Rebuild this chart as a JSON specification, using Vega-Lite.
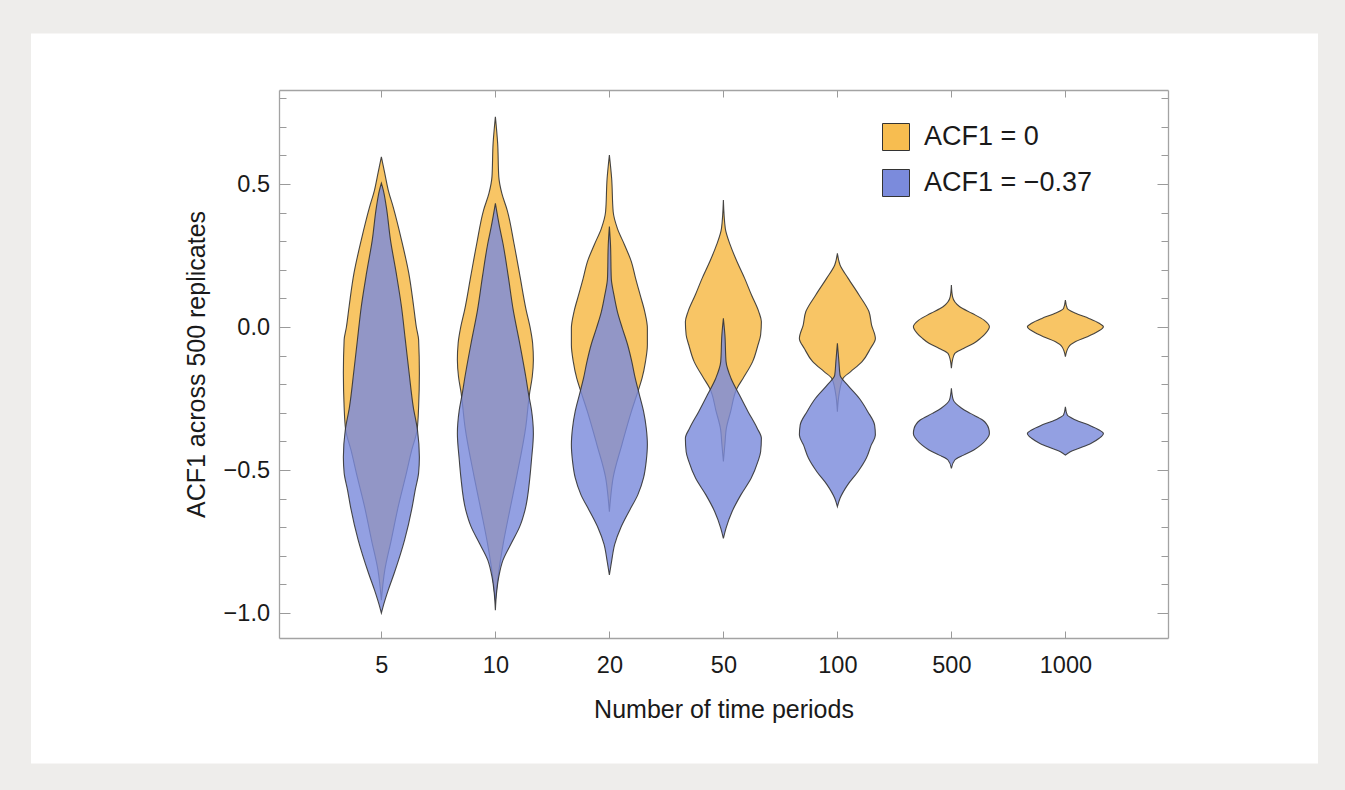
{
  "$schema": "https://vega.github.io/schema/vega-lite/v6.json",
  "width": 889,
  "height": 548,
  "autosize": {"type": "none"},
  "padding": {"left": 279, "top": 90, "right": 177, "bottom": 152},
  "background": "#eeedeb",
  "config": {"view": {"stroke": null}, "font": "Liberation Sans"},
  "datasets": {
    "violins": [
      {"series": "ACF1 = 0", "periods": 5, "acf1": 0.595, "density": 0},
      {"series": "ACF1 = 0", "periods": 5, "acf1": 0.537, "density": 0.09},
      {"series": "ACF1 = 0", "periods": 5, "acf1": 0.479, "density": 0.18},
      {"series": "ACF1 = 0", "periods": 5, "acf1": 0.42, "density": 0.31},
      {"series": "ACF1 = 0", "periods": 5, "acf1": 0.304, "density": 0.53},
      {"series": "ACF1 = 0", "periods": 5, "acf1": 0.189, "density": 0.72},
      {"series": "ACF1 = 0", "periods": 5, "acf1": 0.071, "density": 0.85},
      {"series": "ACF1 = 0", "periods": 5, "acf1": 0.0, "density": 0.92},
      {"series": "ACF1 = 0", "periods": 5, "acf1": -0.045, "density": 0.98},
      {"series": "ACF1 = 0", "periods": 5, "acf1": -0.161, "density": 1.0},
      {"series": "ACF1 = 0", "periods": 5, "acf1": -0.28, "density": 0.98},
      {"series": "ACF1 = 0", "periods": 5, "acf1": -0.36, "density": 0.94},
      {"series": "ACF1 = 0", "periods": 5, "acf1": -0.43, "density": 0.8},
      {"series": "ACF1 = 0", "periods": 5, "acf1": -0.51, "density": 0.66},
      {"series": "ACF1 = 0", "periods": 5, "acf1": -0.63, "density": 0.44},
      {"series": "ACF1 = 0", "periods": 5, "acf1": -0.745, "density": 0.26},
      {"series": "ACF1 = 0", "periods": 5, "acf1": -0.85, "density": 0.09},
      {"series": "ACF1 = 0", "periods": 5, "acf1": -0.955, "density": 0},

      {"series": "ACF1 = 0", "periods": 10, "acf1": 0.735, "density": 0},
      {"series": "ACF1 = 0", "periods": 10, "acf1": 0.642, "density": 0.06},
      {"series": "ACF1 = 0", "periods": 10, "acf1": 0.525, "density": 0.09},
      {"series": "ACF1 = 0", "periods": 10, "acf1": 0.467, "density": 0.17},
      {"series": "ACF1 = 0", "periods": 10, "acf1": 0.409, "density": 0.31},
      {"series": "ACF1 = 0", "periods": 10, "acf1": 0.292, "density": 0.49},
      {"series": "ACF1 = 0", "periods": 10, "acf1": 0.176, "density": 0.65},
      {"series": "ACF1 = 0", "periods": 10, "acf1": 0.059, "density": 0.81},
      {"series": "ACF1 = 0", "periods": 10, "acf1": 0.001, "density": 0.91},
      {"series": "ACF1 = 0", "periods": 10, "acf1": -0.057, "density": 0.98},
      {"series": "ACF1 = 0", "periods": 10, "acf1": -0.115, "density": 1.0},
      {"series": "ACF1 = 0", "periods": 10, "acf1": -0.174, "density": 0.97},
      {"series": "ACF1 = 0", "periods": 10, "acf1": -0.232, "density": 0.9},
      {"series": "ACF1 = 0", "periods": 10, "acf1": -0.349, "density": 0.8},
      {"series": "ACF1 = 0", "periods": 10, "acf1": -0.523, "density": 0.56},
      {"series": "ACF1 = 0", "periods": 10, "acf1": -0.64, "density": 0.38},
      {"series": "ACF1 = 0", "periods": 10, "acf1": -0.755, "density": 0.21},
      {"series": "ACF1 = 0", "periods": 10, "acf1": -0.874, "density": 0.07},
      {"series": "ACF1 = 0", "periods": 10, "acf1": -0.955, "density": 0},

      {"series": "ACF1 = 0", "periods": 20, "acf1": 0.601, "density": 0},
      {"series": "ACF1 = 0", "periods": 20, "acf1": 0.519, "density": 0.06},
      {"series": "ACF1 = 0", "periods": 20, "acf1": 0.403, "density": 0.1},
      {"series": "ACF1 = 0", "periods": 20, "acf1": 0.345, "density": 0.21},
      {"series": "ACF1 = 0", "periods": 20, "acf1": 0.287, "density": 0.4},
      {"series": "ACF1 = 0", "periods": 20, "acf1": 0.228, "density": 0.58},
      {"series": "ACF1 = 0", "periods": 20, "acf1": 0.17, "density": 0.69},
      {"series": "ACF1 = 0", "periods": 20, "acf1": 0.112, "density": 0.81},
      {"series": "ACF1 = 0", "periods": 20, "acf1": 0.054, "density": 0.93},
      {"series": "ACF1 = 0", "periods": 20, "acf1": -0.004, "density": 1.0},
      {"series": "ACF1 = 0", "periods": 20, "acf1": -0.062, "density": 1.0},
      {"series": "ACF1 = 0", "periods": 20, "acf1": -0.121, "density": 0.95},
      {"series": "ACF1 = 0", "periods": 20, "acf1": -0.179, "density": 0.86},
      {"series": "ACF1 = 0", "periods": 20, "acf1": -0.226, "density": 0.75},
      {"series": "ACF1 = 0", "periods": 20, "acf1": -0.295, "density": 0.58},
      {"series": "ACF1 = 0", "periods": 20, "acf1": -0.411, "density": 0.33},
      {"series": "ACF1 = 0", "periods": 20, "acf1": -0.526, "density": 0.1},
      {"series": "ACF1 = 0", "periods": 20, "acf1": -0.6, "density": 0.03},
      {"series": "ACF1 = 0", "periods": 20, "acf1": -0.646, "density": 0},

      {"series": "ACF1 = 0", "periods": 50, "acf1": 0.444, "density": 0},
      {"series": "ACF1 = 0", "periods": 50, "acf1": 0.345, "density": 0.05},
      {"series": "ACF1 = 0", "periods": 50, "acf1": 0.287, "density": 0.18},
      {"series": "ACF1 = 0", "periods": 50, "acf1": 0.228, "density": 0.36},
      {"series": "ACF1 = 0", "periods": 50, "acf1": 0.17, "density": 0.56},
      {"series": "ACF1 = 0", "periods": 50, "acf1": 0.112, "density": 0.74},
      {"series": "ACF1 = 0", "periods": 50, "acf1": 0.054, "density": 0.93},
      {"series": "ACF1 = 0", "periods": 50, "acf1": 0.018, "density": 1.0},
      {"series": "ACF1 = 0", "periods": 50, "acf1": -0.028, "density": 0.98},
      {"series": "ACF1 = 0", "periods": 50, "acf1": -0.063, "density": 0.91},
      {"series": "ACF1 = 0", "periods": 50, "acf1": -0.121, "density": 0.77},
      {"series": "ACF1 = 0", "periods": 50, "acf1": -0.179, "density": 0.52},
      {"series": "ACF1 = 0", "periods": 50, "acf1": -0.214, "density": 0.36},
      {"series": "ACF1 = 0", "periods": 50, "acf1": -0.296, "density": 0.19},
      {"series": "ACF1 = 0", "periods": 50, "acf1": -0.353, "density": 0.08},
      {"series": "ACF1 = 0", "periods": 50, "acf1": -0.41, "density": 0.04},
      {"series": "ACF1 = 0", "periods": 50, "acf1": -0.47, "density": 0},

      {"series": "ACF1 = 0", "periods": 100, "acf1": 0.258, "density": 0},
      {"series": "ACF1 = 0", "periods": 100, "acf1": 0.217, "density": 0.07},
      {"series": "ACF1 = 0", "periods": 100, "acf1": 0.171, "density": 0.28},
      {"series": "ACF1 = 0", "periods": 100, "acf1": 0.112, "density": 0.57},
      {"series": "ACF1 = 0", "periods": 100, "acf1": 0.054, "density": 0.83},
      {"series": "ACF1 = 0", "periods": 100, "acf1": 0.007, "density": 0.9},
      {"series": "ACF1 = 0", "periods": 100, "acf1": -0.04, "density": 1.0},
      {"series": "ACF1 = 0", "periods": 100, "acf1": -0.075, "density": 0.87},
      {"series": "ACF1 = 0", "periods": 100, "acf1": -0.121, "density": 0.65},
      {"series": "ACF1 = 0", "periods": 100, "acf1": -0.156, "density": 0.35},
      {"series": "ACF1 = 0", "periods": 100, "acf1": -0.179, "density": 0.15},
      {"series": "ACF1 = 0", "periods": 100, "acf1": -0.23, "density": 0.05},
      {"series": "ACF1 = 0", "periods": 100, "acf1": -0.296, "density": 0},

      {"series": "ACF1 = 0", "periods": 500, "acf1": 0.147, "density": 0},
      {"series": "ACF1 = 0", "periods": 500, "acf1": 0.106, "density": 0.03},
      {"series": "ACF1 = 0", "periods": 500, "acf1": 0.071, "density": 0.22},
      {"series": "ACF1 = 0", "periods": 500, "acf1": 0.048, "density": 0.54},
      {"series": "ACF1 = 0", "periods": 500, "acf1": 0.024, "density": 0.86},
      {"series": "ACF1 = 0", "periods": 500, "acf1": 0.001, "density": 1.0},
      {"series": "ACF1 = 0", "periods": 500, "acf1": -0.022, "density": 0.9},
      {"series": "ACF1 = 0", "periods": 500, "acf1": -0.04, "density": 0.76},
      {"series": "ACF1 = 0", "periods": 500, "acf1": -0.057, "density": 0.59},
      {"series": "ACF1 = 0", "periods": 500, "acf1": -0.075, "density": 0.32},
      {"series": "ACF1 = 0", "periods": 500, "acf1": -0.092, "density": 0.09},
      {"series": "ACF1 = 0", "periods": 500, "acf1": -0.115, "density": 0.03},
      {"series": "ACF1 = 0", "periods": 500, "acf1": -0.144, "density": 0},

      {"series": "ACF1 = 0", "periods": 1000, "acf1": 0.094, "density": 0},
      {"series": "ACF1 = 0", "periods": 1000, "acf1": 0.065, "density": 0.05},
      {"series": "ACF1 = 0", "periods": 1000, "acf1": 0.048, "density": 0.27},
      {"series": "ACF1 = 0", "periods": 1000, "acf1": 0.03, "density": 0.62},
      {"series": "ACF1 = 0", "periods": 1000, "acf1": 0.013, "density": 0.89},
      {"series": "ACF1 = 0", "periods": 1000, "acf1": 0.001, "density": 1.0},
      {"series": "ACF1 = 0", "periods": 1000, "acf1": -0.016, "density": 0.85},
      {"series": "ACF1 = 0", "periods": 1000, "acf1": -0.034, "density": 0.58},
      {"series": "ACF1 = 0", "periods": 1000, "acf1": -0.051, "density": 0.27},
      {"series": "ACF1 = 0", "periods": 1000, "acf1": -0.069, "density": 0.09},
      {"series": "ACF1 = 0", "periods": 1000, "acf1": -0.104, "density": 0},

      {"series": "ACF1 = −0.37", "periods": 5, "acf1": 0.503, "density": 0},
      {"series": "ACF1 = −0.37", "periods": 5, "acf1": 0.479, "density": 0.05},
      {"series": "ACF1 = −0.37", "periods": 5, "acf1": 0.42, "density": 0.13},
      {"series": "ACF1 = −0.37", "periods": 5, "acf1": 0.304, "density": 0.24},
      {"series": "ACF1 = −0.37", "periods": 5, "acf1": 0.189, "density": 0.39},
      {"series": "ACF1 = −0.37", "periods": 5, "acf1": 0.07, "density": 0.53},
      {"series": "ACF1 = −0.37", "periods": 5, "acf1": -0.045, "density": 0.63},
      {"series": "ACF1 = −0.37", "periods": 5, "acf1": -0.161, "density": 0.73},
      {"series": "ACF1 = −0.37", "periods": 5, "acf1": -0.28, "density": 0.84},
      {"series": "ACF1 = −0.37", "periods": 5, "acf1": -0.36, "density": 0.95},
      {"series": "ACF1 = −0.37", "periods": 5, "acf1": -0.455, "density": 1.0},
      {"series": "ACF1 = −0.37", "periods": 5, "acf1": -0.51, "density": 0.98},
      {"series": "ACF1 = −0.37", "periods": 5, "acf1": -0.57, "density": 0.89},
      {"series": "ACF1 = −0.37", "periods": 5, "acf1": -0.63, "density": 0.81},
      {"series": "ACF1 = −0.37", "periods": 5, "acf1": -0.745, "density": 0.61},
      {"series": "ACF1 = −0.37", "periods": 5, "acf1": -0.86, "density": 0.34},
      {"series": "ACF1 = −0.37", "periods": 5, "acf1": -0.92, "density": 0.18},
      {"series": "ACF1 = −0.37", "periods": 5, "acf1": -0.98, "density": 0.04},
      {"series": "ACF1 = −0.37", "periods": 5, "acf1": -1.0, "density": 0},

      {"series": "ACF1 = −0.37", "periods": 10, "acf1": 0.432, "density": 0},
      {"series": "ACF1 = −0.37", "periods": 10, "acf1": 0.35, "density": 0.11},
      {"series": "ACF1 = −0.37", "periods": 10, "acf1": 0.292, "density": 0.2},
      {"series": "ACF1 = −0.37", "periods": 10, "acf1": 0.176, "density": 0.34},
      {"series": "ACF1 = −0.37", "periods": 10, "acf1": 0.059, "density": 0.47},
      {"series": "ACF1 = −0.37", "periods": 10, "acf1": -0.057, "density": 0.64},
      {"series": "ACF1 = −0.37", "periods": 10, "acf1": -0.174, "density": 0.8},
      {"series": "ACF1 = −0.37", "periods": 10, "acf1": -0.232, "density": 0.87},
      {"series": "ACF1 = −0.37", "periods": 10, "acf1": -0.29, "density": 0.95},
      {"series": "ACF1 = −0.37", "periods": 10, "acf1": -0.372, "density": 1.0},
      {"series": "ACF1 = −0.37", "periods": 10, "acf1": -0.465, "density": 0.95},
      {"series": "ACF1 = −0.37", "periods": 10, "acf1": -0.523, "density": 0.91},
      {"series": "ACF1 = −0.37", "periods": 10, "acf1": -0.64, "density": 0.78},
      {"series": "ACF1 = −0.37", "periods": 10, "acf1": -0.698, "density": 0.64},
      {"series": "ACF1 = −0.37", "periods": 10, "acf1": -0.756, "density": 0.42},
      {"series": "ACF1 = −0.37", "periods": 10, "acf1": -0.815, "density": 0.2},
      {"series": "ACF1 = −0.37", "periods": 10, "acf1": -0.873, "density": 0.09},
      {"series": "ACF1 = −0.37", "periods": 10, "acf1": -0.931, "density": 0.03},
      {"series": "ACF1 = −0.37", "periods": 10, "acf1": -0.99, "density": 0},

      {"series": "ACF1 = −0.37", "periods": 20, "acf1": 0.351, "density": 0},
      {"series": "ACF1 = −0.37", "periods": 20, "acf1": 0.287, "density": 0.03},
      {"series": "ACF1 = −0.37", "periods": 20, "acf1": 0.17, "density": 0.05},
      {"series": "ACF1 = −0.37", "periods": 20, "acf1": 0.112, "density": 0.12},
      {"series": "ACF1 = −0.37", "periods": 20, "acf1": 0.054, "density": 0.21},
      {"series": "ACF1 = −0.37", "periods": 20, "acf1": -0.004, "density": 0.34},
      {"series": "ACF1 = −0.37", "periods": 20, "acf1": -0.062, "density": 0.48},
      {"series": "ACF1 = −0.37", "periods": 20, "acf1": -0.121, "density": 0.59},
      {"series": "ACF1 = −0.37", "periods": 20, "acf1": -0.179, "density": 0.68},
      {"series": "ACF1 = −0.37", "periods": 20, "acf1": -0.237, "density": 0.79},
      {"series": "ACF1 = −0.37", "periods": 20, "acf1": -0.295, "density": 0.9},
      {"series": "ACF1 = −0.37", "periods": 20, "acf1": -0.353, "density": 0.97},
      {"series": "ACF1 = −0.37", "periods": 20, "acf1": -0.411, "density": 1.0},
      {"series": "ACF1 = −0.37", "periods": 20, "acf1": -0.469, "density": 0.97},
      {"series": "ACF1 = −0.37", "periods": 20, "acf1": -0.527, "density": 0.9},
      {"series": "ACF1 = −0.37", "periods": 20, "acf1": -0.586, "density": 0.75},
      {"series": "ACF1 = −0.37", "periods": 20, "acf1": -0.644, "density": 0.52},
      {"series": "ACF1 = −0.37", "periods": 20, "acf1": -0.702, "density": 0.3},
      {"series": "ACF1 = −0.37", "periods": 20, "acf1": -0.76, "density": 0.14},
      {"series": "ACF1 = −0.37", "periods": 20, "acf1": -0.818, "density": 0.06},
      {"series": "ACF1 = −0.37", "periods": 20, "acf1": -0.867, "density": 0},

      {"series": "ACF1 = −0.37", "periods": 50, "acf1": 0.03, "density": 0},
      {"series": "ACF1 = −0.37", "periods": 50, "acf1": -0.028, "density": 0.04},
      {"series": "ACF1 = −0.37", "periods": 50, "acf1": -0.121, "density": 0.07},
      {"series": "ACF1 = −0.37", "periods": 50, "acf1": -0.179, "density": 0.2},
      {"series": "ACF1 = −0.37", "periods": 50, "acf1": -0.237, "density": 0.42},
      {"series": "ACF1 = −0.37", "periods": 50, "acf1": -0.296, "density": 0.65},
      {"series": "ACF1 = −0.37", "periods": 50, "acf1": -0.354, "density": 0.89},
      {"series": "ACF1 = −0.37", "periods": 50, "acf1": -0.389, "density": 1.0},
      {"series": "ACF1 = −0.37", "periods": 50, "acf1": -0.436, "density": 0.98},
      {"series": "ACF1 = −0.37", "periods": 50, "acf1": -0.47, "density": 0.91},
      {"series": "ACF1 = −0.37", "periods": 50, "acf1": -0.529, "density": 0.73},
      {"series": "ACF1 = −0.37", "periods": 50, "acf1": -0.587, "density": 0.46},
      {"series": "ACF1 = −0.37", "periods": 50, "acf1": -0.645, "density": 0.23},
      {"series": "ACF1 = −0.37", "periods": 50, "acf1": -0.703, "density": 0.07},
      {"series": "ACF1 = −0.37", "periods": 50, "acf1": -0.739, "density": 0},

      {"series": "ACF1 = −0.37", "periods": 100, "acf1": -0.057, "density": 0},
      {"series": "ACF1 = −0.37", "periods": 100, "acf1": -0.121, "density": 0.04},
      {"series": "ACF1 = −0.37", "periods": 100, "acf1": -0.168, "density": 0.07},
      {"series": "ACF1 = −0.37", "periods": 100, "acf1": -0.203, "density": 0.27},
      {"series": "ACF1 = −0.37", "periods": 100, "acf1": -0.25, "density": 0.58},
      {"series": "ACF1 = −0.37", "periods": 100, "acf1": -0.296, "density": 0.8},
      {"series": "ACF1 = −0.37", "periods": 100, "acf1": -0.343, "density": 0.98},
      {"series": "ACF1 = −0.37", "periods": 100, "acf1": -0.378, "density": 1.0},
      {"series": "ACF1 = −0.37", "periods": 100, "acf1": -0.413, "density": 0.89},
      {"series": "ACF1 = −0.37", "periods": 100, "acf1": -0.459, "density": 0.76},
      {"series": "ACF1 = −0.37", "periods": 100, "acf1": -0.506, "density": 0.54},
      {"series": "ACF1 = −0.37", "periods": 100, "acf1": -0.552, "density": 0.27},
      {"series": "ACF1 = −0.37", "periods": 100, "acf1": -0.599, "density": 0.07},
      {"series": "ACF1 = −0.37", "periods": 100, "acf1": -0.628, "density": 0},

      {"series": "ACF1 = −0.37", "periods": 500, "acf1": -0.214, "density": 0},
      {"series": "ACF1 = −0.37", "periods": 500, "acf1": -0.255, "density": 0.05},
      {"series": "ACF1 = −0.37", "periods": 500, "acf1": -0.284, "density": 0.27},
      {"series": "ACF1 = −0.37", "periods": 500, "acf1": -0.302, "density": 0.5},
      {"series": "ACF1 = −0.37", "periods": 500, "acf1": -0.325, "density": 0.82},
      {"series": "ACF1 = −0.37", "periods": 500, "acf1": -0.354, "density": 0.98},
      {"series": "ACF1 = −0.37", "periods": 500, "acf1": -0.372, "density": 1.0},
      {"series": "ACF1 = −0.37", "periods": 500, "acf1": -0.395, "density": 0.91},
      {"series": "ACF1 = −0.37", "periods": 500, "acf1": -0.413, "density": 0.77},
      {"series": "ACF1 = −0.37", "periods": 500, "acf1": -0.43, "density": 0.59},
      {"series": "ACF1 = −0.37", "periods": 500, "acf1": -0.448, "density": 0.32},
      {"series": "ACF1 = −0.37", "periods": 500, "acf1": -0.465, "density": 0.09},
      {"series": "ACF1 = −0.37", "periods": 500, "acf1": -0.494, "density": 0},

      {"series": "ACF1 = −0.37", "periods": 1000, "acf1": -0.279, "density": 0},
      {"series": "ACF1 = −0.37", "periods": 1000, "acf1": -0.308, "density": 0.05},
      {"series": "ACF1 = −0.37", "periods": 1000, "acf1": -0.325, "density": 0.27},
      {"series": "ACF1 = −0.37", "periods": 1000, "acf1": -0.343, "density": 0.62},
      {"series": "ACF1 = −0.37", "periods": 1000, "acf1": -0.36, "density": 0.89},
      {"series": "ACF1 = −0.37", "periods": 1000, "acf1": -0.372, "density": 1.0},
      {"series": "ACF1 = −0.37", "periods": 1000, "acf1": -0.389, "density": 0.89},
      {"series": "ACF1 = −0.37", "periods": 1000, "acf1": -0.407, "density": 0.67},
      {"series": "ACF1 = −0.37", "periods": 1000, "acf1": -0.424, "density": 0.36},
      {"series": "ACF1 = −0.37", "periods": 1000, "acf1": -0.436, "density": 0.13},
      {"series": "ACF1 = −0.37", "periods": 1000, "acf1": -0.448, "density": 0}
    ]
  },
  "layer": [
    {
      "description": "white card behind the plot; also carries the top and right frame axes",
      "data": {"values": [{}]},
      "mark": {"type": "rect", "fill": "#ffffff", "fillOpacity": 1, "clip": false},
      "encoding": {
        "x": {
          "datum": -2.073, "type": "quantitative",
          "scale": {"domain": [0.102, 7.9], "nice": false, "zero": false},
          "axis": {"orient": "top", "values": [1, 2, 3, 4, 5, 6, 7], "labels": false, "title": null,
                   "tickSize": -7, "tickColor": "#9a9a9a", "tickWidth": 1,
                   "domainColor": "#a3a3a3", "domainWidth": 1.3, "grid": false, "zindex": 1}
        },
        "x2": {"datum": 9.216, "type": "quantitative"},
        "y": {
          "datum": -1.5262, "type": "quantitative",
          "scale": {"domain": [-1.0874, 0.8287], "nice": false, "zero": false},
          "axis": {"orient": "right", "labels": false, "title": null,
                   "values": [-1, -0.9, -0.8, -0.7, -0.6, -0.5, -0.4, -0.3, -0.2, -0.1, 0, 0.1, 0.2, 0.3, 0.4, 0.5, 0.6, 0.7, 0.8],
                   "tickSize": {"condition": {"test": "abs(datum.value * 2 - round(datum.value * 2)) < 0.001", "value": -11}, "value": -7},
                   "tickColor": "#9a9a9a", "tickWidth": 1,
                   "domainColor": "#a3a3a3", "domainWidth": 1.3, "grid": false, "zindex": 1}
        },
        "y2": {"datum": 1.0263, "type": "quantitative"}
      }
    },
    {
      "mark": {"type": "rule", "color": "#f4d8a4", "strokeWidth": 3},
      "encoding": {"y": {"datum": 0, "type": "quantitative", "axis": null,
                         "scale": {"domain": [-1.0874, 0.8287], "nice": false, "zero": false}}}
    },
    {
      "mark": {"type": "rule", "color": "#bbc4e3", "strokeWidth": 3},
      "encoding": {"y": {"datum": -0.37, "type": "quantitative", "axis": null,
                         "scale": {"domain": [-1.0874, 0.8287], "nice": false, "zero": false}}}
    },
    {
      "data": {"name": "violins"},
      "transform": [
        {"filter": "datum.series === 'ACF1 = 0'"},
        {"calculate": "indexof([5, 10, 20, 50, 100, 500, 1000], datum.periods) + 1", "as": "slot"},
        {"calculate": "datum.slot - datum.density / 3", "as": "left"},
        {"calculate": "datum.slot + datum.density / 3", "as": "right"}
      ],
      "mark": {"type": "area", "orient": "horizontal", "interpolate": "monotone",
               "fillOpacity": 0.88, "stroke": "#333333", "strokeWidth": 1.1, "strokeOpacity": 0.9},
      "encoding": {
        "y": {"field": "acf1", "type": "quantitative",
              "scale": {"domain": [-1.0874, 0.8287], "nice": false, "zero": false},
              "axis": {"orient": "left",
                       "values": [-1, -0.9, -0.8, -0.7, -0.6, -0.5, -0.4, -0.3, -0.2, -0.1, 0, 0.1, 0.2, 0.3, 0.4, 0.5, 0.6, 0.7, 0.8],
                       "labelExpr": "abs(datum.value * 2 - round(datum.value * 2)) < 0.001 ? format(datum.value, '.1f') : ''",
                       "labelOverlap": false,
                       "tickSize": {"condition": {"test": "abs(datum.value * 2 - round(datum.value * 2)) < 0.001", "value": -11}, "value": -7},
                       "tickColor": "#9a9a9a", "tickWidth": 1,
                       "domainColor": "#a3a3a3", "domainWidth": 1.3, "grid": false,
                       "labelFontSize": 23.5, "labelColor": "#1a1a1a", "labelPadding": 20.5,
                       "title": "ACF1 across 500 replicates", "titleFontSize": 25, "titleFontWeight": "normal",
                       "titleColor": "#1a1a1a", "titlePadding": 14, "zindex": 1}},
        "x": {"field": "left", "type": "quantitative", "stack": null,
              "scale": {"domain": [0.102, 7.9], "nice": false, "zero": false},
              "axis": {"orient": "bottom", "values": [1, 2, 3, 4, 5, 6, 7],
                       "labelExpr": "['5', '10', '20', '50', '100', '500', '1000'][datum.value - 1]",
                       "labelFlush": false, "labelOverlap": false,
                       "tickSize": -7, "tickColor": "#9a9a9a", "tickWidth": 1,
                       "domainColor": "#a3a3a3", "domainWidth": 1.3, "grid": false,
                       "labelFontSize": 23.5, "labelColor": "#1a1a1a", "labelPadding": 22,
                       "title": "Number of time periods", "titleFontSize": 25, "titleFontWeight": "normal",
                       "titleColor": "#1a1a1a", "titlePadding": 21, "zindex": 1}},
        "x2": {"field": "right"},
        "detail": {"field": "periods"},
        "color": {"field": "series", "type": "nominal",
                  "scale": {"domain": ["ACF1 = 0", "ACF1 = −0.37"], "range": ["#f7bd50", "#7b8bdc"]},
                  "legend": {"orient": "none", "legendX": 603, "legendY": 33, "title": null, "padding": 0,
                             "symbolType": "square", "symbolSize": 729, "symbolStrokeColor": "#555555",
                             "symbolStrokeWidth": 1, "labelFontSize": 27, "labelColor": "#1a1a1a",
                             "labelLimit": 400, "labelOffset": 14, "rowPadding": 14}}
      }
    },
    {
      "data": {"name": "violins"},
      "transform": [
        {"filter": "datum.series === 'ACF1 = −0.37'"},
        {"calculate": "indexof([5, 10, 20, 50, 100, 500, 1000], datum.periods) + 1", "as": "slot"},
        {"calculate": "datum.slot - datum.density / 3", "as": "left"},
        {"calculate": "datum.slot + datum.density / 3", "as": "right"}
      ],
      "mark": {"type": "area", "orient": "horizontal", "interpolate": "monotone",
               "fillOpacity": 0.82, "stroke": "#333333", "strokeWidth": 1.1, "strokeOpacity": 0.9},
      "encoding": {
        "y": {"field": "acf1", "type": "quantitative",
              "scale": {"domain": [-1.0874, 0.8287], "nice": false, "zero": false}, "axis": null},
        "x": {"field": "left", "type": "quantitative", "stack": null,
              "scale": {"domain": [0.102, 7.9], "nice": false, "zero": false}, "axis": null},
        "x2": {"field": "right"},
        "detail": {"field": "periods"},
        "color": {"field": "series", "type": "nominal"}
      }
    }
  ],
  "resolve": {"axis": {"x": "independent", "y": "independent"}}
}
